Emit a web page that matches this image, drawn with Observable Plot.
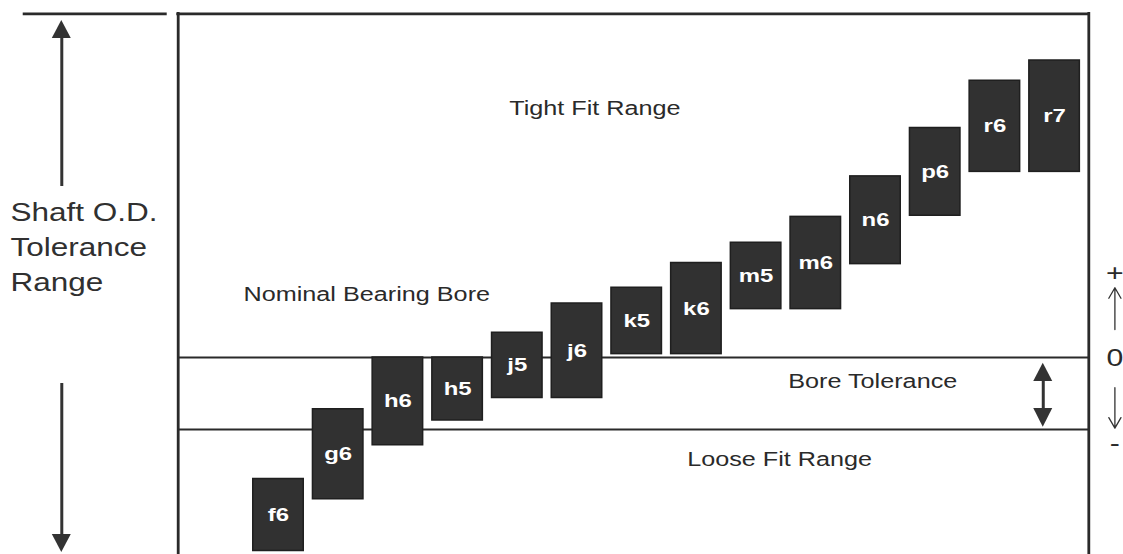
<!DOCTYPE html>
<html>
<head>
<meta charset="utf-8">
<script src="https://cdn.jsdelivr.net/npm/d3@7"></script>
<script src="https://cdn.jsdelivr.net/npm/@observablehq/plot@0.6"></script>
<style>
  html, body { margin: 0; padding: 0; background: #ffffff; }
  #chart { width: 1123px; height: 554px; overflow: hidden; }
</style>
</head>
<body>
<div id="chart"></div>
<script>
// ---- Data (tolerance deviations in µm-like units, 0 = nominal bearing bore) ----
const fits     = ["f6", "g6", "h6", "h5", "j5", "j6", "k5", "k6", "m5", "m6", "n6", "p6", "r6", "r7"];
const upperDev = [-27, -11.5, 0, 0, 5.5, 12, 15.5, 21, 25.5, 31.25, 40.25, 51, 61.5, 66];
const lowerDev = [-43, -31.5, -19.5, -14, -9, -9, 0.75, 0.75, 10.75, 10.75, 20.75, 31.5, 41.25, 41.25];

// bore tolerance band
const boreLines = [0, -16];

// zone annotations
const zoneLabels = ["Tight Fit Range", "Nominal Bearing Bore", "Bore Tolerance", "Loose Fit Range"];
const zoneX      = [5.30, -0.586, 8.538, 6.846];
const zoneY      = [54, 12.5, -6.8, -24.2];
const zoneAnchor = ["middle", "start", "start", "start"];

// left-hand label
const leftLabel = "Shaft O.D.\nTolerance\nRange";

// right-hand sign legend
const signText = ["+", "0", "-"];
const signY    = [18.6, -0.2, -19.0];

// ---- Layout helpers (scale domains) ----
const xDomain = [-278 / 59.7, (1123 - 278) / 59.7];
const yDomain = [(357 - 554) / 4.5, 357 / 4.5];
const frameLeft = -1.68, frameRight = 13.573, frameTop = 76.38;
const leftTopLine = [-4.276, -1.864];
const halfW = 0.423;
const ink = "#2a2a2a";

const boxes = fits.map((fit, i) => ({fit, i, lo: lowerDev[i], hi: upperDev[i]}));
const zones = zoneLabels.map((t, i) => ({t, x: zoneX[i], y: zoneY[i], a: zoneAnchor[i]}));

// filled arrow heads (tip / base) and shafts
const sideX = -3.63, boreArrowX = 12.81, signX = 14.01;
const heads = [
  {id: "up",   x: sideX,      tip: 74.9,   base: 70.9,  hw: 0.159},
  {id: "down", x: sideX,      tip: -43.33, base: -39.33, hw: 0.159},
  {id: "bt",   x: boreArrowX, tip: -1.27,  base: -5.33, hw: 0.159},
  {id: "bb",   x: boreArrowX, tip: -15.49, base: -11.33, hw: 0.159}
];
const headPts = heads.flatMap(h => [
  {id: h.id, x: h.x - h.hw, y1: h.base, y2: h.base},
  {id: h.id, x: h.x,        y1: h.base, y2: h.tip},
  {id: h.id, x: h.x + h.hw, y1: h.base, y2: h.base}
]);
const shafts = [
  {x: sideX, y1: 38, y2: 71.2},
  {x: sideX, y1: -5.78, y2: -39.6},
  {x: boreArrowX, y1: -4.5, y2: -12.2}
];
const thinArrows = [
  {x: signX, y1: 6.2, y2: 15.5},
  {x: signX, y1: -6.7, y2: -15.7}
];
const signs = signText.map((s, i) => ({s, y: signY[i]}));

const chart = Plot.plot({
  width: 1123,
  height: 554,
  marginTop: 0, marginRight: 0, marginBottom: 0, marginLeft: 0,
  x: {domain: xDomain, axis: null},
  y: {domain: yDomain, axis: null},
  style: {fontFamily: "'Liberation Sans', Arial, sans-serif", background: "#ffffff", color: ink, overflow: "visible"},
  marks: [
    // bore tolerance lines
    Plot.ruleY(boreLines, {x1: frameLeft, x2: frameRight, stroke: ink, strokeWidth: 2.2}),
    // frame
    Plot.ruleX([frameLeft, frameRight], {y1: yDomain[0], y2: frameTop, stroke: ink, strokeWidth: 2.8, strokeLinecap: "square"}),
    Plot.ruleY([frameTop], {x1: frameLeft, x2: frameRight, stroke: ink, strokeWidth: 2.8, strokeLinecap: "square"}),
    Plot.ruleY([frameTop], {x1: leftTopLine[0], x2: leftTopLine[1], stroke: ink, strokeWidth: 2.8}),
    // shaft tolerance boxes
    Plot.rect(boxes, {x1: d => d.i - halfW, x2: d => d.i + halfW, y1: "lo", y2: "hi", fill: "#313131", stroke: "#1f1f1f", strokeWidth: 1.5}),
    Plot.text(boxes, {x: "i", y: d => (d.lo + d.hi) / 2, text: "fit", fill: "#ffffff", fontWeight: "bold", fontSize: 19}),
    // zone labels
    Plot.text(zones.filter(d => d.a === "middle"), {x: "x", y: "y", text: "t", textAnchor: "middle", lineAnchor: "bottom", fontSize: 20, fill: ink}),
    Plot.text(zones.filter(d => d.a === "start"), {x: "x", y: "y", text: "t", textAnchor: "start", lineAnchor: "bottom", fontSize: 20, fill: ink}),
    Plot.text([leftLabel], {x: -4.489, y: 14.67, text: d => d, textAnchor: "start", lineAnchor: "bottom", lineHeight: 1.41, fontSize: 25, fill: "#303030"}),
    // arrows
    Plot.ruleX(shafts, {x: "x", y1: "y1", y2: "y2", stroke: "#333333", strokeWidth: 3}),
    Plot.areaY(headPts, {x: "x", y1: "y1", y2: "y2", z: "id", fill: "#333333"}),
    Plot.arrow(thinArrows, {x1: "x", x2: "x", y1: "y1", y2: "y2", stroke: "#333333", strokeWidth: 1.3, headLength: 14, headAngle: 60}),
    Plot.text(signs, {x: signX, y: "y", text: "s", fontSize: 24, fill: ink})
  ]
});

document.getElementById("chart").append(chart);

// the reference drawing is horizontally stretched; widen the glyphs to match
const STRETCH = 1.26;
const svg = chart.tagName.toLowerCase() === "svg" ? chart : chart.querySelector("svg");
svg.querySelectorAll("text").forEach(t => {
  const spans = t.querySelectorAll("tspan");
  const targets = spans.length ? Array.from(spans) : [t];
  targets.forEach(el => {
    const L = el.getComputedTextLength();
    if (L > 0) {
      el.setAttribute("textLength", (L * STRETCH).toFixed(2));
      el.setAttribute("lengthAdjust", "spacingAndGlyphs");
    }
  });
});
</script>
</body>
</html>
